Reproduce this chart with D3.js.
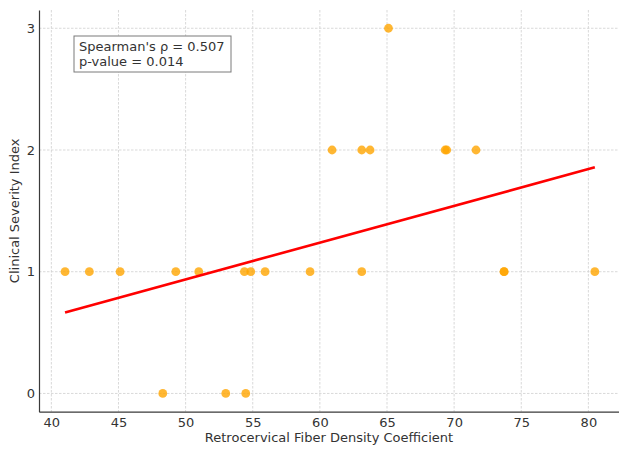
<!DOCTYPE html>
<html>
<head>
<meta charset="utf-8">
<script src="https://cdn.jsdelivr.net/npm/d3@7"></script>
<style>
  body { margin: 0; background: #fff; }
  svg { font-family: "DejaVu Sans", sans-serif; }
</style>
</head>
<body>
<div id="chart"></div>
<script>
// values
const fiberDensity = [41.02, 42.83, 45.12, 49.27, 50.98, 54.38, 54.85, 55.92, 59.27, 63.12, 73.72, 73.72, 80.48,
  48.30, 52.99, 54.48,
  60.91, 63.12, 63.74, 69.33, 69.45, 71.63,
  65.11];
const severity = [1, 1, 1, 1, 1, 1, 1, 1, 1, 1, 1, 1, 1,
  0, 0, 0,
  2, 2, 2, 2, 2, 2,
  3];
const xTicks = [40, 45, 50, 55, 60, 65, 70, 75, 80];
const yTicks = [0, 1, 2, 3];
const statLines = ["Spearman's \u03c1 = 0.507", "p-value = 0.014"];

const W = 619, H = 450;
const plot = { left: 39, right: 619, top: 10, bottom: 411.7 };

const data = fiberDensity.map((x, i) => ({ x: x, y: severity[i] }));

const x = d3.scaleLinear().domain([39.08, 82.28]).range([plot.left, plot.right]);
const y = d3.scaleLinear().domain([-0.15, 3.15]).range([plot.bottom, plot.top]);

const svg = d3.select("#chart").append("svg")
  .attr("width", W).attr("height", H);

// grid
const grid = svg.append("g")
  .attr("stroke", "#cfcfcf")
  .attr("stroke-width", 0.8)
  .attr("stroke-dasharray", "2.5,1.5");
grid.selectAll(".gx").data(xTicks).join("line")
  .attr("x1", d => x(d)).attr("x2", d => x(d))
  .attr("y1", plot.top).attr("y2", plot.bottom);
grid.selectAll(".gy").data(yTicks).join("line")
  .attr("y1", d => y(d)).attr("y2", d => y(d))
  .attr("x1", plot.left).attr("x2", plot.right);

// least squares fit line
const mx = d3.mean(data, d => d.x), my = d3.mean(data, d => d.y);
const slope = d3.sum(data, d => (d.x - mx) * (d.y - my)) / d3.sum(data, d => (d.x - mx) ** 2);
const icpt = my - slope * mx;
const ext = d3.extent(data, d => d.x);

// points
svg.append("g").selectAll("circle").data(data).join("circle")
  .attr("cx", d => x(d.x)).attr("cy", d => y(d.y))
  .attr("r", 4.4)
  .attr("fill", "#ffa500")
  .attr("fill-opacity", 0.8);

svg.append("line")
  .attr("x1", x(ext[0])).attr("y1", y(icpt + slope * ext[0]))
  .attr("x2", x(ext[1])).attr("y2", y(icpt + slope * ext[1]))
  .attr("stroke", "#ff0000")
  .attr("stroke-width", 2.6);

// axes
const xAxis = svg.append("g")
  .attr("transform", `translate(0,${plot.bottom})`)
  .call(d3.axisBottom(x).tickValues(xTicks).tickSize(0).tickPadding(15));
const yAxis = svg.append("g")
  .attr("transform", `translate(${plot.left},0)`)
  .call(d3.axisLeft(y).tickValues(yTicks).tickFormat(d3.format("d")).tickSize(0).tickPadding(4));
[xAxis, yAxis].forEach(a => {
  a.select(".domain").attr("stroke", "#3a3a3a").attr("stroke-width", 1.2);
  a.selectAll("text").attr("fill", "#333").style("font-size", "13px")
    .style("font-family", "'DejaVu Sans', sans-serif");
});
xAxis.selectAll("text").attr("dy", 0).attr("y", 15.3);

svg.append("text")
  .attr("x", (plot.left + plot.right) / 2).attr("y", 442)
  .attr("text-anchor", "middle")
  .attr("fill", "#333").style("font-size", "13px")
  .text("Retrocervical Fiber Density Coefficient");

svg.append("text")
  .attr("transform", `translate(19,${(plot.top + plot.bottom) / 2}) rotate(-90)`)
  .attr("text-anchor", "middle")
  .attr("fill", "#333").style("font-size", "13px")
  .text("Clinical Severity Index");

// stats box
const box = svg.append("g");
box.append("rect")
  .attr("x", 74).attr("y", 36).attr("width", 157).attr("height", 36)
  .attr("fill", "#fff").attr("stroke", "#7a7a7a").attr("stroke-width", 1);
box.selectAll("text").data(statLines).join("text")
  .attr("x", 79).attr("y", (d, i) => 50.5 + i * 15)
  .attr("fill", "#333").style("font-size", "13px")
  .text(d => d);
</script>
</body>
</html>
